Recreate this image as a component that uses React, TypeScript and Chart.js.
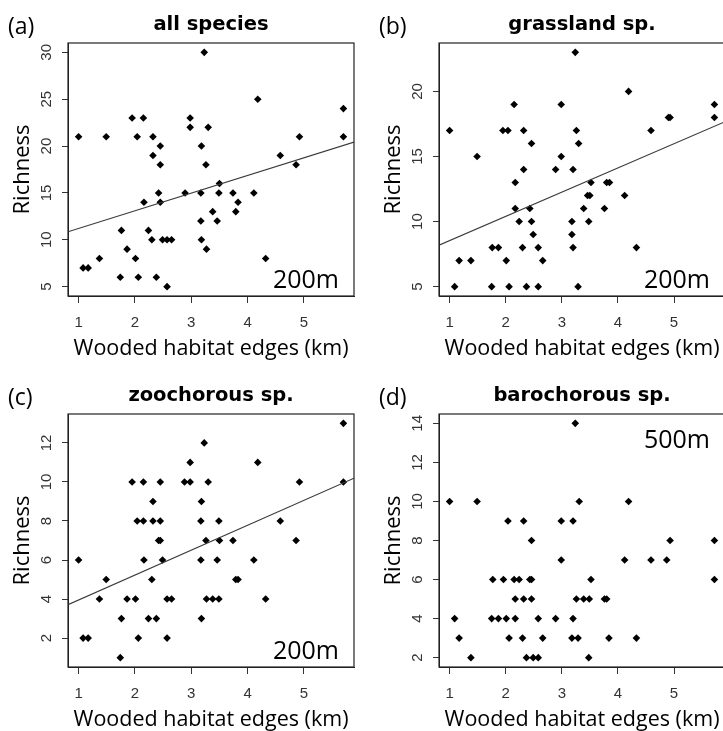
import React, { useEffect, useRef } from "react";
import { Chart, registerables } from "chart.js";

Chart.register(...registerables);

// ---------- data ----------
const xTickValues = [1, 2, 3, 4, 5];
const xAxisTitle = "Wooded habitat edges (km)";
const yAxisTitle = "Richness";

// (a) all species, 200m
const allSpeciesX = [
  3.23, 4.18, 5.7, 1.95, 2.15, 2.98, 2.98, 3.3, 1.0, 1.49, 2.04, 2.32, 4.92, 5.7,
  2.45, 3.18, 2.32, 4.58, 2.45, 3.26, 4.86, 3.5, 2.42, 2.89, 3.17, 3.49, 3.74, 4.11,
  2.16, 2.45, 3.83, 3.38, 3.79, 3.17, 3.46, 1.76, 2.24, 2.3, 2.49, 2.57, 2.65, 3.18,
  1.86, 3.27, 1.37, 2.01, 4.32, 1.08, 1.17, 1.74, 2.06, 2.38, 2.57,
];
const allSpeciesY = [
  30, 25, 24, 23, 23, 23, 22, 22, 21, 21, 21, 21, 21, 21,
  20, 20, 19, 19, 18, 18, 18, 16, 15, 15, 15, 15, 15, 15,
  14, 14, 14, 13, 13, 12, 12, 11, 11, 10, 10, 10, 10, 10,
  9, 9, 8, 8, 8, 7, 7, 6, 6, 6, 5,
];
const allSpeciesYTicks = [5, 10, 15, 20, 25, 30];
const allSpeciesFit = [9.33, 1.885]; // intercept, slope

// (b) grassland sp., 200m
const grasslandX = [
  3.24, 4.19, 2.15, 2.99, 5.72, 4.9, 4.93, 5.72, 1.0, 1.95, 2.04, 2.32, 3.26, 4.59,
  2.46, 3.3, 1.49, 2.99, 2.32, 2.89, 3.2, 2.17, 3.52, 3.8, 3.85, 3.46, 3.5, 4.12,
  2.17, 2.43, 3.39, 3.76, 2.24, 2.46, 3.18, 3.48, 2.49, 3.18, 1.76, 1.87, 2.3, 2.58,
  3.2, 4.33, 1.17, 1.38, 2.01, 2.66, 1.09, 1.75, 2.06, 2.37, 2.58, 3.29,
];
const grasslandY = [
  23, 20, 19, 19, 19, 18, 18, 18, 17, 17, 17, 17, 17, 17,
  16, 16, 15, 15, 14, 14, 14, 13, 13, 13, 13, 12, 12, 12,
  11, 11, 11, 11, 10, 10, 10, 10, 9, 9, 8, 8, 8, 8,
  8, 8, 7, 7, 7, 7, 5, 5, 5, 5, 5, 5,
];
const grasslandYTicks = [5, 10, 15, 20];
const grasslandFit = [6.68, 1.86];

// (c) zoochorous sp., 200m
const zoochorousX = [
  5.7, 3.23, 2.98, 4.18, 1.95, 2.15, 2.45, 2.88, 2.98, 3.3, 4.92, 5.7,
  2.32, 3.18, 2.04, 2.15, 2.32, 2.45, 3.17, 3.49, 4.58, 2.42, 2.45, 3.26, 3.5, 3.74, 4.86,
  1.0, 2.16, 2.49, 3.17, 3.46, 4.11, 1.49, 2.3, 3.79, 3.83,
  1.37, 1.86, 2.01, 2.57, 2.65, 3.27, 3.38, 3.49, 4.32,
  1.76, 2.24, 2.38, 3.18, 1.08, 1.17, 2.06, 2.57, 1.74,
];
const zoochorousY = [
  13, 12, 11, 11, 10, 10, 10, 10, 10, 10, 10, 10,
  9, 9, 8, 8, 8, 8, 8, 8, 8, 7, 7, 7, 7, 7, 7,
  6, 6, 6, 6, 6, 6, 5, 5, 5, 5,
  4, 4, 4, 4, 4, 4, 4, 4, 4,
  3, 3, 3, 3, 2, 2, 2, 2, 1,
];
const zoochorousYTicks = [2, 4, 6, 8, 10, 12];
const zoochorousFit = [2.677, 1.276];

// (d) barochorous sp., 500m
const barochorousX = [
  3.24, 1.0, 1.49, 3.31, 4.19, 2.04, 2.32, 2.99, 3.2, 2.46, 4.93, 5.72,
  2.99, 4.12, 4.59, 4.87, 1.77, 1.96, 2.15, 2.24, 2.43, 2.46, 3.52, 5.72,
  2.17, 2.32, 2.46, 3.26, 3.39, 3.49, 3.76, 3.8,
  1.09, 1.75, 1.87, 2.01, 2.17, 2.58, 2.89, 3.2,
  1.17, 2.06, 2.3, 2.66, 3.18, 3.29, 3.84, 4.33,
  1.38, 2.37, 2.49, 2.58, 3.48,
];
const barochorousY = [
  14, 10, 10, 10, 10, 9, 9, 9, 9, 8, 8, 8,
  7, 7, 7, 7, 6, 6, 6, 6, 6, 6, 6, 6,
  5, 5, 5, 5, 5, 5, 5, 5,
  4, 4, 4, 4, 4, 4, 4, 4,
  3, 3, 3, 3, 3, 3, 3, 3,
  2, 2, 2, 2, 2,
];
const barochorousYTicks = [2, 4, 6, 8, 10, 12, 14];

type PanelDef = {
  tag: string;
  title: string;
  xs: number[];
  ys: number[];
  yTicks: number[];
  fit: number[] | null;
  buffer: string;
  bufferTop: boolean;
  col: number;
  row: number;
};

const panels: PanelDef[] = [
  { tag: "(a)", title: "all species", xs: allSpeciesX, ys: allSpeciesY, yTicks: allSpeciesYTicks, fit: allSpeciesFit, buffer: "200m", bufferTop: false, col: 0, row: 0 },
  { tag: "(b)", title: "grassland sp.", xs: grasslandX, ys: grasslandY, yTicks: grasslandYTicks, fit: grasslandFit, buffer: "200m", bufferTop: false, col: 1, row: 0 },
  { tag: "(c)", title: "zoochorous sp.", xs: zoochorousX, ys: zoochorousY, yTicks: zoochorousYTicks, fit: zoochorousFit, buffer: "200m", bufferTop: false, col: 0, row: 1 },
  { tag: "(d)", title: "barochorous sp.", xs: barochorousX, ys: barochorousY, yTicks: barochorousYTicks, fit: null, buffer: "500m", bufferTop: true, col: 1, row: 1 },
];

// R-style axis range: extend data range by 4% on each side
function rRange(arr: number[]): [number, number] {
  const mn = Math.min(...arr);
  const mx = Math.max(...arr);
  const d = (mx - mn) * 0.04;
  return [mn - d, mx + d];
}

const PANEL = 371;
const TICK_FONT = { family: '"Liberation Sans", Arial, sans-serif', size: 15 };
const LABEL_FAMILY = '"Open Sans", sans-serif';

function Panel({ p }: { p: PanelDef }) {
  const ref = useRef<HTMLCanvasElement>(null);
  useEffect(() => {
    if (!ref.current) return;
    const [xMin, xMax] = rRange(p.xs);
    const [yMin, yMax] = rRange(p.ys);
    const points = p.xs.map((x, i) => ({ x, y: p.ys[i] }));
    const datasets: any[] = [];
    if (p.fit) {
      const fit = p.fit;
      datasets.push({
        type: "line",
        data: [xMin, xMax].map((x) => ({ x, y: fit[0] + fit[1] * x })),
        borderColor: "#3a3a3a",
        borderWidth: 1.1,
        pointRadius: 0,
        fill: false,
        tension: 0,
      });
    }
    datasets.push({
      type: "scatter",
      data: points,
      pointStyle: "rectRot",
      pointRadius: 3.8,
      backgroundColor: "#000",
      borderColor: "#000",
      borderWidth: 0,
      clip: false,
    });

    const deco = {
      id: "deco",
      afterDraw(chart: any) {
        const { ctx, chartArea: a } = chart;
        ctx.save();
        ctx.strokeStyle = "#222";
        ctx.lineWidth = 1.2;
        ctx.strokeRect(a.left, a.top, a.right - a.left, a.bottom - a.top);
        ctx.fillStyle = "#000";
        ctx.textBaseline = "alphabetic";
        ctx.font = 'bold 19.5px "DejaVu Sans", sans-serif';
        ctx.textAlign = "center";
        ctx.fillText(p.title, (a.left + a.right) / 2, 29.5);
        ctx.font = `23px ${LABEL_FAMILY}`;
        ctx.textAlign = "left";
        ctx.fillText(p.tag, 8, 34);
        ctx.font = `25px ${LABEL_FAMILY}`;
        ctx.textAlign = "right";
        ctx.fillText(p.buffer, a.right - 15, p.bufferTop ? a.top + 34 : a.bottom - 8);
        ctx.restore();
      },
    };

    const chart = new Chart(ref.current, {
      type: "scatter",
      data: { datasets },
      options: {
        animation: false,
        responsive: false,
        maintainAspectRatio: false,
        events: [],
        layout: { padding: { top: 43, left: 0, right: 17, bottom: 0 } },
        plugins: { legend: { display: false }, tooltip: { enabled: false }, title: { display: false } },
        scales: {
          x: {
            type: "linear",
            min: xMin,
            max: xMax,
            afterBuildTicks: (s: any) => {
              s.ticks = xTickValues.map((v) => ({ value: v }));
            },
            afterFit: (s: any) => {
              s.height = 75;
            },
            ticks: { padding: 11, color: "#333", font: TICK_FONT, maxRotation: 0, minRotation: 0 },
            grid: { display: true, drawOnChartArea: false, drawTicks: true, tickLength: 7, color: "#333", lineWidth: 1 },
            border: { display: true, color: "#222", width: 1 },
            title: {
              display: true,
              text: xAxisTitle,
              color: "#000",
              font: { family: LABEL_FAMILY, size: 21.5 },
              padding: { top: 0, bottom: 9 },
            },
          },
          y: {
            type: "linear",
            min: yMin,
            max: yMax,
            afterBuildTicks: (s: any) => {
              s.ticks = p.yTicks.map((v) => ({ value: v }));
            },
            afterFit: (s: any) => {
              s.width = 68;
            },
            ticks: { padding: 7, color: "#333", font: TICK_FONT, minRotation: 90, maxRotation: 90, crossAlign: "center" },
            grid: { display: true, drawOnChartArea: false, drawTicks: true, tickLength: 6, color: "#333", lineWidth: 1 },
            border: { display: true, color: "#222", width: 1 },
            title: {
              display: true,
              text: yAxisTitle,
              color: "#000",
              font: { family: LABEL_FAMILY, size: 22 },
              padding: { top: 10, bottom: 0 },
            },
          },
        },
      } as any,
      plugins: [deco],
    });
    return () => chart.destroy();
  }, [p]);

  return (
    <div style={{ position: "absolute", left: p.col * PANEL, top: p.row * PANEL, width: PANEL, height: PANEL }}>
      <canvas ref={ref} width={PANEL} height={PANEL} style={{ display: "block", width: PANEL, height: PANEL }} />
    </div>
  );
}

export default function App() {
  return (
    <div style={{ position: "fixed", left: 0, top: 0, width: 723, height: 731, overflow: "hidden", background: "#fff" }}>
      {panels.map((p) => (
        <Panel key={p.tag} p={p} />
      ))}
    </div>
  );
}
